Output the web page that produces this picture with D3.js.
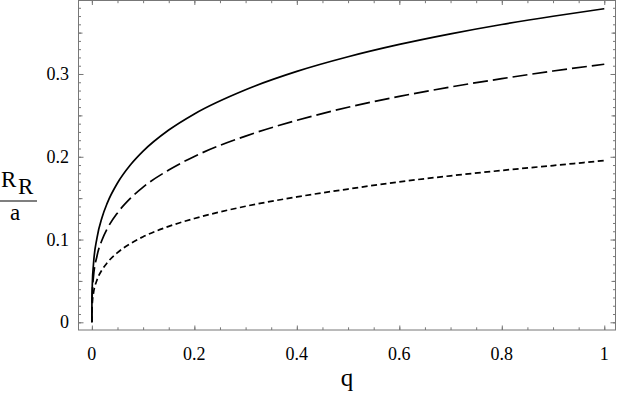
<!DOCTYPE html>
<html>
<head>
<meta charset="utf-8">
<script src="https://cdn.jsdelivr.net/npm/d3@7"></script>
</head>
<body style="margin:0">
<svg id="chart" width="618" height="393" font-family="'Liberation Serif', monospace"></svg>
<script>
const q = [0, 0.0001, 0.001, 0.003, 0.01, 0.02, 0.03, 0.05, 0.075, 0.1, 0.15, 0.2, 0.3, 0.4, 0.5, 0.6, 0.7, 0.8, 0.9, 1.0];
const solidR = [0, 0.0226, 0.0484, 0.0692, 0.1020, 0.1270, 0.1440, 0.1683, 0.1900, 0.2068, 0.2323, 0.2518, 0.2810, 0.3031, 0.3208, 0.3357, 0.3485, 0.3598, 0.3698, 0.3789];
const longDashR = [0, 0.0178, 0.0380, 0.0543, 0.0801, 0.0997, 0.1131, 0.1322, 0.1497, 0.1634, 0.1840, 0.2004, 0.2250, 0.2440, 0.2598, 0.2729, 0.2843, 0.2944, 0.3036, 0.3118];
const shortDashR = [0, 0.0113, 0.0242, 0.0346, 0.0510, 0.0635, 0.0720, 0.0842, 0.0950, 0.1034, 0.1159, 0.1254, 0.1402, 0.1515, 0.1610, 0.1697, 0.1770, 0.1835, 0.1894, 0.1954];

const xLabels = [0, 0.2, 0.4, 0.6, 0.8, 1];
const xMinor = d3.range(0, 1.001, 0.05);
const yLabels = [0, 0.1, 0.2, 0.3];
const yMid = [0.05, 0.15, 0.25, 0.35];
const yMinor = d3.range(0, 0.385, 0.01);

const svg = d3.select("#chart");
const serifFont = "'Liberation Serif', monospace";
const frame = { left: 78.5, right: 615.5, top: 0.5, bottom: 330 };

const x = d3.scaleLinear().domain([-0.0261, 1.0219]).range([frame.left, frame.right]);
const y = d3.scaleLinear().domain([-0.0093, 0.3888]).range([frame.bottom, frame.top]);

const frameColor = "#777";

// ticks pointing inward on all four sides
function ticks(axis, values, size, transform) {
  const g = svg.append("g")
    .attr("transform", transform)
    .call(axis.tickValues(values).tickSize(-size).tickFormat(""));
  g.select(".domain").remove();
  g.selectAll("line").attr("stroke", frameColor).attr("stroke-width", 1);
}

ticks(d3.axisBottom(x), xMinor, 2.7, `translate(0,${frame.bottom})`);
ticks(d3.axisBottom(x), xLabels, 4.5, `translate(0,${frame.bottom})`);
ticks(d3.axisTop(x), xMinor, 2.7, `translate(0,${frame.top})`);
ticks(d3.axisTop(x), xLabels, 4.5, `translate(0,${frame.top})`);

ticks(d3.axisLeft(y), yMinor, 2.5, `translate(${frame.left},0)`);
ticks(d3.axisLeft(y), yMid, 4, `translate(${frame.left},0)`);
ticks(d3.axisLeft(y), yLabels, 5, `translate(${frame.left},0)`);
ticks(d3.axisRight(y), yMinor, 2.5, `translate(${frame.right},0)`);
ticks(d3.axisRight(y), yMid, 4, `translate(${frame.right},0)`);
ticks(d3.axisRight(y), yLabels, 5, `translate(${frame.right},0)`);

svg.append("rect")
  .attr("x", frame.left).attr("y", frame.top)
  .attr("width", frame.right - frame.left).attr("height", frame.bottom - frame.top)
  .attr("fill", "none")
  .attr("stroke", frameColor)
  .attr("stroke-width", 1);

// tick labels
svg.selectAll(".xl")
  .data(xLabels)
  .enter().append("text")
  .attr("x", d => x(d))
  .attr("y", 360)
  .attr("text-anchor", "middle")
  .style("font-family", serifFont)
  .attr("font-size", 18)
  .text(d => d3.format("~g")(d));

svg.selectAll(".yl")
  .data(yLabels)
  .enter().append("text")
  .attr("x", 69)
  .attr("y", d => y(d) + 6)
  .attr("text-anchor", "end")
  .style("font-family", serifFont)
  .attr("font-size", 18)
  .text(d => d3.format("~g")(d));

// axis titles
svg.append("text")
  .attr("x", 347)
  .attr("y", 386)
  .attr("text-anchor", "middle")
  .style("font-family", serifFont)
  .attr("font-size", 25)
  .text("q");

const yt = svg.append("text").style("font-family", serifFont).attr("font-size", 23);
yt.append("tspan").attr("x", 1).attr("y", 187).text("R");
yt.append("tspan").attr("x", 18).attr("y", 194).text("R");

svg.append("line")
  .attr("x1", 0).attr("x2", 37)
  .attr("y1", 201).attr("y2", 201)
  .attr("stroke", "#000").attr("stroke-width", 1.2);

svg.append("text")
  .attr("x", 15)
  .attr("y", 220)
  .attr("text-anchor", "middle")
  .style("font-family", serifFont)
  .attr("font-size", 23)
  .text("a");

// curves
const line = d3.line()
  .x(d => x(d[0]))
  .y(d => y(d[1]))
  .curve(d3.curveMonotoneX);

const series = [
  { values: solidR, dash: null },
  { values: longDashR, dash: "15,5" },
  { values: shortDashR, dash: "6,3.5" }
];

series.forEach(s => {
  svg.append("path")
    .datum(q.map((v, i) => [v, s.values[i]]))
    .attr("fill", "none")
    .attr("stroke", "#000")
    .attr("stroke-width", 1.7)
    .attr("stroke-dasharray", s.dash)
    .attr("d", line);
});
</script>
</body>
</html>
